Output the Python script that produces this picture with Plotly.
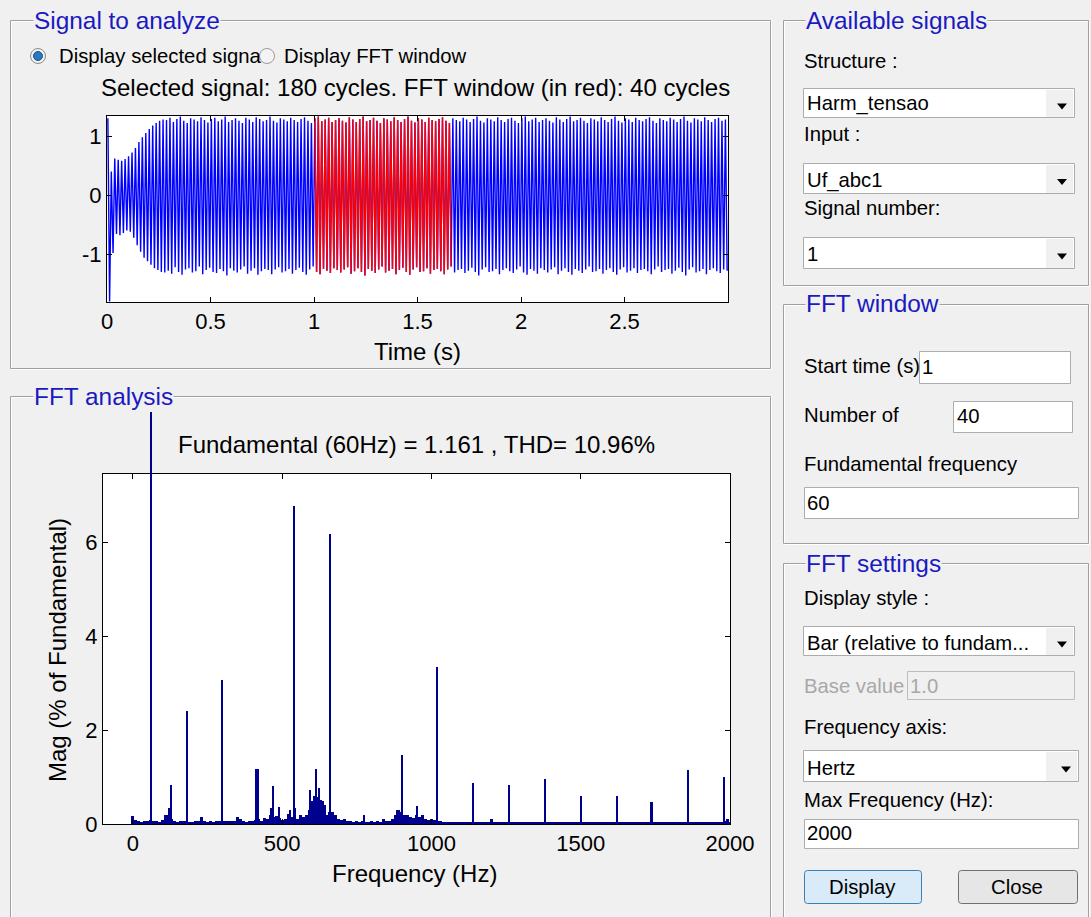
import plotly.graph_objects as go

W, H = 1091, 917

# ---------------- data ----------------
f0 = 60  # fundamental frequency (Hz)
# Time signal: per-cycle positive and negative peak values (180 cycles)
pos_peaks = [
    1.30, 0.40, 0.62, 0.60, 0.58, 0.61, 0.66, 0.72, 0.80, 0.90,
    0.98, 1.05, 1.12, 1.18, 1.22, 1.26, 1.28,
    1.27, 1.31, 1.24, 1.29, 1.33, 1.26, 1.22, 1.30, 1.28, 1.25,
    1.32, 1.27, 1.23, 1.29, 1.31, 1.25, 1.28, 1.33, 1.24, 1.27,
    1.30, 1.26, 1.22, 1.31, 1.28, 1.24, 1.32, 1.29, 1.25, 1.27,
    1.33, 1.26, 1.23, 1.30, 1.28, 1.25, 1.31, 1.27, 1.24, 1.29,
    1.32, 1.26, 1.22, 1.30, 1.33, 1.25, 1.28, 1.31, 1.24, 1.27,
    1.30, 1.26, 1.23, 1.32, 1.28, 1.24, 1.29, 1.33, 1.25, 1.27,
    1.31, 1.26, 1.22, 1.30, 1.28, 1.25, 1.32, 1.27, 1.24, 1.29,
    1.33, 1.26, 1.23, 1.30, 1.28, 1.24, 1.31, 1.27, 1.25, 1.29,
    1.32, 1.26, 1.22, 1.30, 1.27, 1.25, 1.31, 1.28, 1.24, 1.29,
    1.33, 1.26, 1.23, 1.30, 1.28, 1.25, 1.32, 1.27, 1.24, 1.29,
    1.31, 1.26, 1.22, 1.30, 1.33, 1.25, 1.28, 1.31, 1.24, 1.27,
    1.30, 1.26, 1.23, 1.32, 1.28, 1.24, 1.29, 1.33, 1.25, 1.27,
    1.31, 1.26, 1.22, 1.30, 1.28, 1.25, 1.32, 1.27, 1.24, 1.29,
    1.33, 1.26, 1.23, 1.30, 1.28, 1.24, 1.31, 1.27, 1.25, 1.29,
    1.32, 1.26, 1.22, 1.30, 1.27, 1.25, 1.31, 1.28, 1.24, 1.29,
    1.33, 1.26, 1.23, 1.30, 1.28, 1.25, 1.32, 1.27, 1.24, 1.29,
    1.31, 1.26, 1.28,
]
neg_peaks = [
    -1.80, -0.98, -0.66, -0.68, -0.64, -0.60, -0.62, -0.72, -0.85, -0.96,
    -1.06, -1.12, -1.18, -1.24, -1.27, -1.30, -1.31,
    -1.28, -1.33, -1.22, -1.30, -1.35, -1.26, -1.24, -1.31, -1.29, -1.21,
    -1.34, -1.27, -1.23, -1.30, -1.32, -1.25, -1.29, -1.36, -1.24, -1.28,
    -1.31, -1.26, -1.21, -1.33, -1.28, -1.24, -1.35, -1.29, -1.25, -1.27,
    -1.34, -1.26, -1.22, -1.31, -1.29, -1.25, -1.33, -1.27, -1.23, -1.30,
    -1.35, -1.26, -1.21, -1.30, -1.34, -1.25, -1.28, -1.32, -1.24, -1.27,
    -1.31, -1.26, -1.22, -1.33, -1.29, -1.24, -1.30, -1.36, -1.25, -1.28,
    -1.32, -1.26, -1.21, -1.31, -1.28, -1.25, -1.34, -1.27, -1.23, -1.30,
    -1.35, -1.26, -1.22, -1.30, -1.29, -1.24, -1.33, -1.27, -1.25, -1.29,
    -1.34, -1.26, -1.21, -1.31, -1.27, -1.25, -1.32, -1.28, -1.23, -1.30,
    -1.36, -1.26, -1.22, -1.30, -1.29, -1.25, -1.34, -1.27, -1.24, -1.29,
    -1.32, -1.26, -1.21, -1.31, -1.35, -1.25, -1.28, -1.33, -1.24, -1.27,
    -1.31, -1.26, -1.22, -1.34, -1.28, -1.24, -1.30, -1.35, -1.25, -1.28,
    -1.32, -1.26, -1.21, -1.30, -1.29, -1.25, -1.33, -1.27, -1.24, -1.30,
    -1.35, -1.26, -1.22, -1.31, -1.28, -1.24, -1.32, -1.27, -1.25, -1.29,
    -1.34, -1.26, -1.21, -1.30, -1.27, -1.25, -1.33, -1.28, -1.23, -1.30,
    -1.36, -1.26, -1.22, -1.31, -1.29, -1.25, -1.34, -1.27, -1.24, -1.29,
    -1.32, -1.26, -1.28,
]
fft_start_cycle = 60
fft_n_cycles = 40
time_ticks = [0, 0.5, 1, 1.5, 2, 2.5]
time_ticktext = ["0", "0.5", "1", "1.5", "2", "2.5"]
sig_ticks = [-1, 0, 1]
sig_ticktext = ["-1", "0", "1"]

# FFT: harmonic / interharmonic lines (Hz, % of fundamental)
line_freq = [60, 121, 128, 180, 300, 414, 420, 463, 470, 488, 525, 540, 544,
             594, 600, 606, 612, 617, 624, 631, 638, 645, 660, 774, 886, 900,
             903, 953, 1020, 1140, 1260, 1380, 1500, 1620, 1737, 1740, 1860, 1980]
line_mag = [100.0, 0.33, 0.84, 2.40, 3.07, 1.18, 1.18, 0.33, 0.81, 0.37, 0.30, 6.77, 0.35,
            0.72, 0.50, 0.60, 1.16, 0.58, 0.76, 0.52, 0.50, 0.40, 6.18, 0.20, 0.30, 1.47,
            0.48, 0.38, 3.35, 0.87, 0.83, 0.95, 0.60, 0.60, 0.47, 0.47, 1.15, 0.99]
# FFT noise floor, 10 Hz bins from 0 to 2000 Hz
floor_freq = list(range(0, 2001, 10))
floor_mag = [
    0.17, 0.08, 0.06, 0.05, 0.06, 0.07, 0.08, 0.07, 0.06, 0.05,
    0.08, 0.20, 0.20, 0.10, 0.06, 0.05, 0.06, 0.07, 0.06, 0.05,
    0.05, 0.06, 0.07, 0.15, 0.06, 0.05, 0.06, 0.05, 0.06, 0.07,
    0.06, 0.07, 0.06, 0.07, 0.06, 0.15, 0.10, 0.06, 0.05, 0.06,
    0.07, 0.08, 0.10, 0.07, 0.12, 0.10, 0.20, 0.15, 0.18, 0.12,
    0.08, 0.10, 0.22, 0.15, 0.18, 0.10, 0.20, 0.15, 0.20, 0.30,
    0.45, 0.50, 0.45, 0.40, 0.35, 0.20, 0.25, 0.25, 0.20, 0.10,
    0.08, 0.10, 0.07, 0.06, 0.05, 0.06, 0.05, 0.06, 0.05, 0.05,
    0.06, 0.05, 0.06, 0.05, 0.10, 0.06, 0.07, 0.10, 0.20, 0.30,
    0.25, 0.20, 0.20, 0.15, 0.12, 0.20, 0.15, 0.20, 0.10, 0.08,
    0.10, 0.08, 0.07, 0.06, 0.05, 0.05, 0.04, 0.05, 0.04, 0.05,
    0.04, 0.05, 0.04, 0.05, 0.04, 0.04, 0.05, 0.04, 0.05, 0.04,
    0.10, 0.05, 0.04, 0.05, 0.04, 0.04, 0.05, 0.04, 0.04, 0.05,
    0.04, 0.05, 0.04, 0.04, 0.05, 0.04, 0.04, 0.05, 0.04, 0.04,
    0.05, 0.04, 0.04, 0.05, 0.04, 0.04, 0.05, 0.04, 0.04, 0.05,
    0.04, 0.04, 0.05, 0.04, 0.04, 0.05, 0.04, 0.04, 0.05, 0.04,
    0.04, 0.05, 0.04, 0.04, 0.05, 0.04, 0.04, 0.05, 0.04, 0.04,
    0.05, 0.04, 0.04, 0.05, 0.04, 0.04, 0.05, 0.04, 0.04, 0.05,
    0.04, 0.04, 0.05, 0.04, 0.04, 0.05, 0.04, 0.04, 0.05, 0.04,
    0.04, 0.05, 0.04, 0.04, 0.05, 0.04, 0.04, 0.05, 0.06, 0.10,
    0.05,
]
freq_ticks = [0, 500, 1000, 1500, 2000]
mag_ticks = [0, 2, 4, 6]

# ---------------- build signal polyline ----------------
def cycle_vertices(k0, k1):
    xs, ys = [], []
    for k in range(k0, k1):
        xs += [(k + 0.25) / f0, (k + 0.75) / f0]
        ys += [pos_peaks[k], neg_peaks[k]]
    return xs, ys

t_all, v_all = cycle_vertices(0, len(pos_peaks))
t_red, v_red = cycle_vertices(fft_start_cycle, fft_start_cycle + fft_n_cycles)

PLOT_FONT = "Liberation Sans"
GUI_FONT = "Liberation Sans"
BAR_COLOR = "rgb(0,0,143)"

fig = go.Figure()
fig.add_trace(go.Scatter(x=t_all, y=v_all, mode="lines", xaxis="x", yaxis="y",
                         line=dict(color="#0000FF", width=1.4, simplify=False),
                         hoverinfo="skip", showlegend=False))
fig.add_trace(go.Scatter(x=t_red, y=v_red, mode="lines", xaxis="x", yaxis="y",
                         line=dict(color="#FF0000", width=1.4, simplify=False),
                         hoverinfo="skip", showlegend=False))
fig.add_trace(go.Bar(x=floor_freq, y=floor_mag, width=10, xaxis="x2", yaxis="y2",
                     marker=dict(color=BAR_COLOR, line=dict(width=0)),
                     hoverinfo="skip", showlegend=False))
fig.add_trace(go.Bar(x=line_freq, y=line_mag, width=3.4, xaxis="x3", yaxis="y3",
                     marker=dict(color=BAR_COLOR, line=dict(width=0)),
                     hoverinfo="skip", showlegend=False))

def px(x):
    return x / W

def py(y):
    return 1 - y / H

axis_common = dict(showline=True, linecolor="black", linewidth=1, mirror="ticks",
                   ticks="inside", ticklen=5, tickwidth=1, tickcolor="black",
                   showgrid=False, zeroline=False, automargin=False,
                   tickfont=dict(family=PLOT_FONT, size=22, color="black"))

fig.update_layout(
    width=W, height=H, autosize=False,
    margin=dict(l=0, r=0, t=0, b=0, pad=0, autoexpand=False),
    paper_bgcolor="#F0F0F0", plot_bgcolor="rgba(0,0,0,0)",
    barmode="overlay", bargap=0,
    xaxis=dict(domain=[px(107), px(728)], range=[0, 3], anchor="y",
               tickvals=time_ticks, ticktext=time_ticktext, **axis_common),
    yaxis=dict(domain=[py(302), py(116)], range=[-1.81, 1.34], anchor="x",
               tickvals=sig_ticks, ticktext=sig_ticktext, **axis_common),
    xaxis2=dict(domain=[px(103), px(730)], range=[-100, 2000], anchor="y2",
                tickvals=freq_ticks, **axis_common),
    yaxis2=dict(domain=[py(824), py(474)], range=[0, 7.45], anchor="x2",
                tickvals=mag_ticks, **axis_common),
    xaxis3=dict(domain=[px(103), px(730)], range=[-100, 2000], anchor="y3",
                visible=False),
    yaxis3=dict(domain=[py(824), py(412)], range=[0, 412 / 47.0], anchor="x3",
                visible=False),
)

shapes = []

def rect(x0, y0, x1, y1, fill=None, line=None, lw=1):
    return dict(type="rect", xref="paper", yref="paper",
                x0=px(x0), x1=px(x1), y0=py(y0), y1=py(y1),
                fillcolor=fill if fill else "rgba(0,0,0,0)",
                line=dict(color=line if line else "rgba(0,0,0,0)", width=lw if line else 0),
                layer="below")

def seg(x0, y0, x1, y1, color):
    return dict(type="line", xref="paper", yref="paper",
                x0=px(x0), x1=px(x1), y0=py(y0), y1=py(y1),
                line=dict(color=color, width=1), layer="below")

def path(pts, fill, line=None, lw=1):
    d = "M " + " L ".join(f"{px(a):.5f},{py(b):.5f}" for a, b in pts) + " Z"
    return dict(type="path", xref="paper", yref="paper", path=d, fillcolor=fill,
                line=dict(color=line if line else "rgba(0,0,0,0)", width=lw if line else 0),
                layer="below")

def rrect(x0, y0, x1, y1, r, fill, line):
    P = lambda a, b: f"{px(a):.5f},{py(b):.5f}"
    d = (f"M {P(x0+r,y0)} L {P(x1-r,y0)} Q {P(x1,y0)} {P(x1,y0+r)} L {P(x1,y1-r)} "
         f"Q {P(x1,y1)} {P(x1-r,y1)} L {P(x0+r,y1)} Q {P(x0,y1)} {P(x0,y1-r)} "
         f"L {P(x0,y0+r)} Q {P(x0,y0)} {P(x0+r,y0)} Z")
    return dict(type="path", xref="paper", yref="paper", path=d, fillcolor=fill,
                line=dict(color=line, width=1), layer="below")

def circle(cx, cy, r, fill, line, lw=1):
    return dict(type="circle", xref="paper", yref="paper",
                x0=px(cx - r), x1=px(cx + r), y0=py(cy + r), y1=py(cy - r),
                fillcolor=fill, line=dict(color=line, width=lw), layer="below")

# panels (etched borders); open-bottom panels run off the bottom edge
def panel(a, b, c, d, closed=True):
    for off, col in ((1, "#FFFFFF"), (0, "#A0A0A0")):
        shapes.append(seg(a + off, b + off, c + off, b + off, col))
        shapes.append(seg(a + off, b + off, a + off, d, col))
        shapes.append(seg(c + off, b + off, c + off, d, col))
        if closed:
            shapes.append(seg(a + off, d + off, c + off, d + off, col))

panel(10.5, 20.5, 770.5, 368.5)
panel(10.5, 396.5, 770.5, 917, closed=False)
panel(783.5, 20.5, 1088.5, 285.5)
panel(783.5, 304.5, 1088.5, 543.5)
panel(783.5, 563.5, 1088.5, 917, closed=False)

# axes backgrounds
shapes.append(rect(107, 116, 728, 302, fill="white"))
shapes.append(rect(103, 474, 730, 824, fill="white"))

# radio buttons
shapes.append(circle(38, 56, 7.5, "#F2F2F2", "#8A8A8A"))
shapes.append(circle(38, 56, 4.5, "#2A78C0", "#1B4F8A"))
shapes.append(circle(267, 56, 7.5, "#F4F4F4", "#9A9A9A"))

# dropdowns
def dropdown(y0, y1, x1=1074):
    shapes.append(rect(803.5, y0 + 0.5, x1 + 0.5, y1 + 0.5, fill="white", line="#ACACAC"))
    shapes.append(rect(1046, y0 + 2, x1 - 1, y1, fill="#F0F0F0"))
    cx, cy = x1 - 12, (y0 + y1) / 2 + 4
    shapes.append(path([(cx - 5, cy - 3), (cx + 5, cy - 3), (cx, cy + 3)], "black"))

dropdown(88, 117)
dropdown(163, 193)
dropdown(237, 268)
dropdown(626, 655)
dropdown(750, 781, x1=1078)

# text boxes
shapes.append(rect(919.5, 351.5, 1070.5, 383.5, fill="white", line="#ABADB3"))
shapes.append(rect(953.5, 401.5, 1072.5, 432.5, fill="white", line="#ABADB3"))
shapes.append(rect(804.5, 487.5, 1078.5, 518.5, fill="white", line="#ABADB3"))
shapes.append(rect(907.5, 671.5, 1074.5, 699.5, fill="#F0F0F0", line="#BCBCBC"))
shapes.append(rect(804.5, 819.5, 1078.5, 848.5, fill="white", line="#ABADB3"))

# buttons
shapes.append(rrect(804.5, 870.5, 921.5, 903.5, 3, "#D9EBF9", "#3C7FB1"))
shapes.append(rrect(958.5, 870.5, 1077.5, 903.5, 3, "#E6E6E6", "#707070"))

fig.update_layout(shapes=shapes)

ann = []

def txt(s, x, y, size=20.3, color="black", xanchor="left", bg=None, family=GUI_FONT, angle=0):
    d = dict(text=s, x=px(x), y=py(y), xref="paper", yref="paper", showarrow=False,
             xanchor=xanchor, yanchor="middle", textangle=angle, borderpad=0,
             font=dict(size=size, color=color, family=family))
    if bg:
        d["bgcolor"] = bg
    return d

TITLE_C = "#1A1AC0"
BG = "#F0F0F0"
TS = 24.4
ann.append(txt("Signal to analyze", 33, 20, size=TS, color=TITLE_C, bg=BG))
ann.append(txt("FFT analysis", 33, 396, size=TS, color=TITLE_C, bg=BG))
ann.append(txt("Available signals", 805, 20, size=TS, color=TITLE_C, bg=BG))
ann.append(txt("FFT window", 805, 304, size=TS, color=TITLE_C, bg=BG))
ann.append(txt("FFT settings", 805, 563, size=TS, color=TITLE_C, bg=BG))

ann.append(txt("Display selected signa", 58, 56))
ann.append(txt("Display FFT window", 283, 56))

PS = 24
ann.append(txt("Selected signal: 180 cycles. FFT window (in red): 40 cycles", 415, 87,
               size=PS, xanchor="center", family=PLOT_FONT))
ann.append(txt("Time (s)", 417, 352, size=PS, xanchor="center", family=PLOT_FONT))
ann.append(txt("Fundamental (60Hz) = 1.161 , THD= 10.96%", 416, 444,
               size=PS, xanchor="center", family=PLOT_FONT))
ann.append(txt("Frequency (Hz)", 414, 873, size=PS, xanchor="center", family=PLOT_FONT))
ann.append(txt("Mag (% of Fundamental)", 57, 650, size=PS, xanchor="center",
               family=PLOT_FONT, angle=-90))

ann.append(txt("Structure :", 803, 61))
ann.append(txt("Harm_tensao", 806, 104))
ann.append(txt("Input :", 803, 134))
ann.append(txt("Uf_abc1", 806, 180))
ann.append(txt("Signal number:", 803, 208))
ann.append(txt("1", 806, 254))

ann.append(txt("Start time (s)", 803, 366))
ann.append(txt("1", 921, 367))
ann.append(txt("Number of", 803, 415))
ann.append(txt("40", 956, 416))
ann.append(txt("Fundamental frequency", 803, 464))
ann.append(txt("60", 806, 503))

ann.append(txt("Display style :", 803, 598))
ann.append(txt("Bar (relative to fundam...", 806, 643))
ann.append(txt("Base value", 803, 686, color="#A8A8A8"))
ann.append(txt("1.0", 909, 686, color="#A8A8A8"))
ann.append(txt("Frequency axis:", 803, 727))
ann.append(txt("Hertz", 806, 768))
ann.append(txt("Max Frequency (Hz):", 803, 800))
ann.append(txt("2000", 806, 833))
ann.append(txt("Display", 862, 887, xanchor="center"))
ann.append(txt("Close", 1017, 887, xanchor="center"))

fig.update_layout(annotations=ann)

fig.write_html("out.html", config={"responsive": False, "displayModeBar": False},
               post_script="document.body.style.margin='0';document.body.style.padding='0';"
                           "document.body.style.overflow='hidden';")
